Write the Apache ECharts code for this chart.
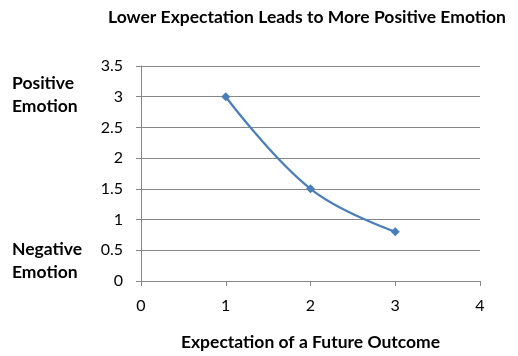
<!DOCTYPE html>
<html>
<head>
<meta charset="utf-8">
<script src="https://cdn.jsdelivr.net/npm/echarts@6/dist/echarts.min.js"></script>
<style>html,body{margin:0;padding:0;background:#fff;}#c{width:518px;height:356px;}</style>
</head>
<body>
<div id="c"></div>
<script>
var titleText = 'Lower Expectation Leads to More Positive Emotion';
var xAxisName = 'Expectation of a Future Outcome';
var xValues = [1, 2, 3];
var yValues = [3, 1.5, 0.8];
var sideLabels = ['Positive\nEmotion', 'Negative\nEmotion'];

var chart = echarts.init(document.getElementById('c'), null, {renderer: 'canvas'});
var font = 'Lato, "Liberation Sans", Arial, sans-serif';
chart.setOption({
  animation: false,
  backgroundColor: '#fff',
  title: {
    text: titleText,
    left: 302, top: 3, textAlign: 'center',
    textStyle: {fontFamily: font, fontWeight: 'bold', fontSize: 17.5, color: '#000'}
  },
  graphic: [
    {type: 'text', left: 12, top: 72, style: {text: sideLabels[0], font: 'bold 17.5px ' + font, fill: '#000', lineHeight: 23}},
    {type: 'text', left: 12, top: 238, style: {text: sideLabels[1], font: 'bold 17.5px ' + font, fill: '#000', lineHeight: 23}}
  ],
  grid: {left: 141, right: 38, top: 66, bottom: 75, containLabel: false, outerBoundsMode: 'none'},
  xAxis: {
    type: 'value', min: 0, max: 4, interval: 1,
    name: xAxisName, nameLocation: 'middle', nameGap: 52,
    nameTextStyle: {fontFamily: font, fontWeight: 'bold', fontSize: 17.5, color: '#000'},
    axisLine: {show: true, lineStyle: {color: '#868686', width: 1}},
    axisTick: {show: true, length: 5, inside: false, lineStyle: {color: '#868686'}},
    axisLabel: {margin: 17, fontFamily: font, fontSize: 16, color: '#000'},
    splitLine: {show: false}
  },
  yAxis: {
    type: 'value', min: 0, max: 3.5, interval: 0.5,
    axisLine: {show: true, lineStyle: {color: '#868686', width: 1}},
    axisTick: {show: true, length: 5, inside: false, lineStyle: {color: '#868686'}},
    axisLabel: {margin: 18, fontFamily: font, fontSize: 16, color: '#000'},
    splitLine: {show: true, lineStyle: {color: '#868686', width: 1}}
  },
  series: [{
    type: 'line',
    data: xValues.map(function (x, i) { return [x, yValues[i]]; }),
    smooth: 0.4,
    symbol: 'diamond', symbolSize: 9,
    itemStyle: {color: '#4A7EBB'},
    lineStyle: {color: '#4A7EBB', width: 2.2}
  }]
});
</script>
</body>
</html>
